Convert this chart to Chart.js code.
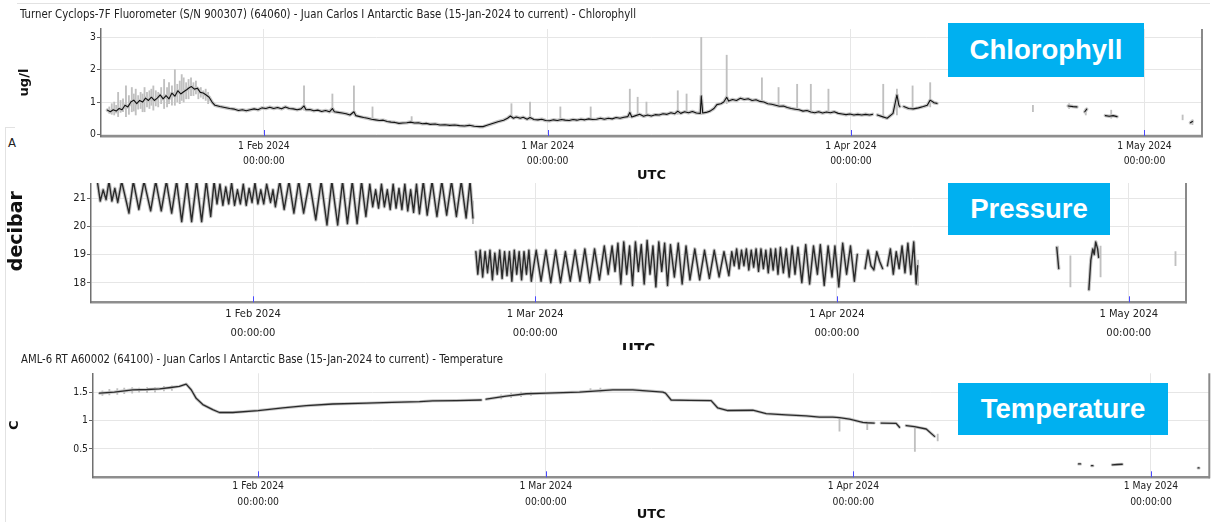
<!DOCTYPE html>
<html>
<head>
<meta charset="utf-8">
<title>Juan Carlos I Antarctic Base</title>
<script src="https://cdn.jsdelivr.net/npm/chart.js@4.4.1/dist/chart.umd.min.js"></script>
<style>
  body { margin: 0; background: #fff; width: 1216px; height: 522px; overflow: hidden; position: relative; }
  canvas { position: absolute; left: 0; }
  .title { position: absolute; white-space: nowrap; color: #222; font: 12px "DejaVu Sans Condensed", "DejaVu Sans", sans-serif; line-height: 14px; transform-origin: 0 50%; }
  .badge { position: absolute; background: #00b0f0; color: #fff; font: bold 27.5px "Liberation Sans", Arial, sans-serif; display: flex; align-items: center; justify-content: center; }
  .rule { position: absolute; background: #e2e2e2; }
  #presWrap { position: absolute; left: 0; top: 183px; width: 1216px; height: 167px; overflow: hidden; }
</style>
</head>
<body>
<div class="rule" style="left:17px;top:3px;width:1193px;height:1px"></div>
<div class="rule" style="left:5px;top:127px;width:1px;height:395px"></div>
<div class="rule" style="left:5px;top:127px;width:10px;height:1px"></div>
<div class="title" style="left:8px;top:136px;font-size:13px">A</div>

<div id="presWrap"><canvas id="presChart" width="1216" height="210" style="top:-33px"></canvas></div>
<canvas id="chlChart" width="1216" height="190" style="top:0"></canvas>
<canvas id="tempChart" width="1216" height="170" style="top:352px"></canvas>

<div class="title" data-w="616" style="left:20px;top:7px">Turner Cyclops-7F Fluorometer (S/N 900307) (64060) - Juan Carlos I Antarctic Base (15-Jan-2024 to current) - Chlorophyll</div>
<div class="title" data-w="482" style="left:21px;top:352px">AML-6 RT A60002 (64100) - Juan Carlos I Antarctic Base (15-Jan-2024 to current) - Temperature</div>

<div class="badge" style="left:948px;top:23px;width:196px;height:54px">Chlorophyll</div>
<div class="badge" style="left:948px;top:183px;width:162px;height:52px">Pressure</div>
<div class="badge" style="left:958px;top:383px;width:210px;height:52px">Temperature</div>

<script>
// --- Data (x = days since 1 Jan 2024 00:00 UTC) ---
const xMin = 14.35;
const xMax = 126.88;
const monthTicks = [31, 60, 91, 121];
const monthLabels = ['1 Feb 2024', '1 Mar 2024', '1 Apr 2024', '1 May 2024'];
const timeLabel = '00:00:00';

// Chlorophyll (ug/l), averaged trace; null = gap in the record
const chlDays = [15.0,15.3,15.6,15.9,16.2,16.5,16.8,17.1,17.4,17.7,18.0,18.3,18.6,18.9,19.2,19.5,19.8,20.1,20.4,20.7,21.0,21.3,21.6,21.9,22.2,22.5,22.8,23.1,23.4,23.6,23.9,24.2,24.5,24.8,25.1,25.4,25.7,26.0,26.5,27.0,27.5,28.0,28.4,28.8,29.2,29.6,30.0,30.4,30.8,31.2,31.6,32.0,32.4,32.8,33.2,33.6,34.0,34.4,34.8,35.1,35.3,35.7,36.1,36.5,36.9,37.3,37.7,38.0,38.2,38.6,39.0,39.4,39.8,40.2,40.4,40.8,41.2,41.6,42.0,42.4,42.8,43.2,43.6,44.0,44.4,44.8,45.2,45.6,46.0,46.4,46.8,47.2,47.6,48.0,48.5,49.0,49.5,50.0,50.5,51.0,51.5,52.0,52.5,53.0,53.4,
  53.8,54.2,54.6,55.0,55.5,55.9,56.2,56.5,56.8,57.2,57.5,57.9,58.2,58.6,59.0,59.4,59.8,60.2,60.6,61.0,61.4,61.8,62.2,62.6,63.0,63.4,63.8,64.2,64.6,65.0,65.4,65.8,66.2,66.6,67.0,67.4,67.8,68.2,68.4,68.6,69.0,69.4,69.8,70.2,70.6,71.0,71.4,71.8,72.2,72.6,73.0,73.3,73.6,74.0,74.4,74.8,75.2,75.6,75.7,75.85,76.2,76.6,77.0,77.3,77.7,78.0,78.3,78.5,78.9,79.3,79.7,80.1,80.5,80.9,81.3,81.7,82.1,82.5,82.9,83.3,83.7,84.1,84.5,84.9,85.3,85.7,86.1,86.5,86.9,87.3,87.7,88.1,88.5,88.9,89.3,89.7,90.1,90.5,90.9,91.3,91.7,92.1,92.5,92.9,93.2,93.45,
  93.7,94.2,94.7,95.3,95.7,95.9,96.0,96.15,96.4,96.9,97.4,97.9,98.4,98.8,99.1,99.5,99.8,100.0,113.2,113.7,114.1,114.5,114.9,115.1,115.5,117.0,117.4,117.8,118.2,118.6,125.7,125.9];
const chlVals = [0.75,0.7,0.76,0.72,0.8,0.76,0.9,0.85,1.0,1.06,0.95,1.05,1.0,1.12,1.05,1.15,1.05,1.12,1.22,1.1,1.2,1.1,1.28,1.18,1.35,1.25,1.32,1.38,1.45,1.48,1.4,1.43,1.3,1.28,1.22,1.15,1.0,0.9,0.86,0.83,0.8,0.78,0.74,0.76,0.73,0.76,0.79,0.76,0.82,0.8,0.84,0.8,0.83,0.79,0.85,0.8,0.79,0.76,0.79,0.88,0.76,0.77,0.73,0.75,0.71,0.74,0.7,0.8,0.7,0.68,0.66,0.64,0.6,0.7,0.58,0.55,0.52,0.5,0.47,0.45,0.43,0.44,0.4,0.38,0.37,0.34,0.35,0.36,0.38,0.35,0.36,0.33,0.34,0.31,0.32,0.29,0.3,0.28,0.29,0.27,0.26,0.28,0.25,0.24,0.24,
  0.28,0.32,0.36,0.4,0.44,0.5,0.57,0.5,0.54,0.5,0.53,0.47,0.52,0.46,0.45,0.47,0.43,0.42,0.45,0.43,0.46,0.44,0.43,0.46,0.44,0.47,0.45,0.48,0.46,0.47,0.5,0.47,0.5,0.48,0.52,0.5,0.53,0.55,0.68,0.54,0.58,0.62,0.56,0.6,0.57,0.61,0.6,0.64,0.62,0.67,0.64,0.72,0.65,0.7,0.67,0.71,0.66,0.65,1.19,0.66,0.68,0.72,0.8,0.92,0.95,1.0,1.15,1.03,1.08,1.05,1.12,1.08,1.1,1.05,1.07,1.02,1.0,0.95,0.93,0.9,0.87,0.88,0.83,0.8,0.78,0.76,0.72,0.74,0.69,0.67,0.7,0.66,0.69,0.67,0.7,0.65,0.63,0.61,0.63,0.6,0.62,0.6,0.62,0.6,0.62,null,
  0.6,0.55,0.5,0.65,1.22,0.9,0.86,null,0.86,0.8,0.79,0.82,0.86,0.9,1.06,0.98,0.96,null,0.88,0.86,0.85,null,0.7,0.78,null,0.58,0.56,0.58,0.55,null,0.36,0.4];
// Chlorophyll raw spikes: low / high of each grey stroke
const chlSpikeDays = [15.2,15.45,15.7,15.9,16.1,16.35,16.6,16.9,17.2,17.5,17.7,17.9,18.15,18.4,18.6,18.8,19.05,19.3,19.5,19.7,19.95,20.2,20.5,20.8,21.1,21.3,21.6,21.9,22.15,22.4,22.6,22.8,23.05,23.3,23.55,23.8,24.05,24.3,24.55,24.8,25.05,25.3,35.1,38.0,40.2,42.1,46.1,56.3,58.2,61.3,64.4,68.4,69.2,70.1,73.3,74.2,75.7,78.3,81.9,83.6,85.5,86.9,88.7,94.3,95.7,97.3,99.1,109.6,113.3,115.0,117.6,124.9,125.9];
const chlSpikeLo = [0.65,0.62,0.6,0.66,0.55,0.68,0.7,0.55,0.62,0.7,0.72,0.6,0.78,0.8,0.7,0.7,0.85,0.8,0.9,0.75,0.88,0.85,0.95,0.8,0.85,0.95,0.9,0.9,1.0,0.95,1.05,1.0,1.1,1.1,1.2,1.2,1.25,1.1,1.15,1.1,1.05,0.95,0.75,0.68,0.6,0.45,0.33,0.5,0.45,0.4,0.44,0.52,0.55,0.56,0.62,0.66,0.62,0.95,1.0,0.85,0.75,0.68,0.65,0.5,0.6,0.75,0.85,0.7,0.8,0.6,0.5,0.45,0.3];
const chlSpikeHi = [0.85,0.95,1.0,0.9,1.3,1.05,1.1,1.5,1.2,1.45,1.25,1.4,1.2,1.3,1.25,1.45,1.3,1.35,1.4,1.5,1.35,1.3,1.45,1.7,1.45,1.6,1.5,2.0,1.55,1.65,1.85,1.75,1.6,1.7,1.75,1.6,1.65,1.4,1.45,1.35,1.4,1.3,1.5,1.25,1.5,0.85,0.55,0.95,1.0,0.85,0.85,1.4,1.15,1.0,1.35,1.25,3.0,2.45,1.75,1.45,1.55,1.55,1.4,1.55,1.4,1.5,1.6,0.9,0.95,0.8,0.75,0.6,0.45];

// Pressure (decibar), tidal trace
const presDays = [15.0,15.3,15.6,15.9,16.2,16.5,16.8,17.1,17.5,17.9,18.25,18.7,19.27,19.8,20.48,21.0,21.57,22.1,22.64,23.15,23.67,24.2,24.69,25.2,25.72,26.2,26.65,27.0,27.3,27.6,27.9,28.2,28.5,28.8,29.1,29.4,29.7,30.0,30.3,30.6,30.9,31.2,31.5,31.8,32.1,32.4,32.8,33.05,33.3,33.75,34.2,34.7,35.2,35.7,36.2,36.8,37.45,38.0,38.6,39.1,39.7,40.2,40.7,41.2,41.7,42.15,42.6,43.0,43.3,43.6,43.9,44.2,44.5,44.8,45.1,45.4,45.7,46.0,46.3,46.6,46.9,47.2,47.5,47.8,48.1,48.5,48.9,49.4,49.9,50.4,50.9,51.4,51.9,52.4,52.9,53.3,53.6,53.75,
  53.9,54.1,54.35,54.6,54.85,55.1,55.35,55.6,55.85,56.1,56.35,56.6,56.85,57.1,57.35,57.6,57.85,58.1,58.35,58.6,58.85,59.1,59.35,59.6,60.1,60.6,61.1,61.6,62.1,62.6,63.1,63.6,64.1,64.6,65.1,65.6,66.1,66.6,67.1,67.5,67.9,68.2,68.5,68.8,69.1,69.4,69.7,70.0,70.3,70.6,70.9,71.2,71.5,71.8,72.1,72.4,72.7,73.0,73.3,73.6,73.9,74.3,74.7,75.1,75.5,75.9,76.4,76.9,77.4,77.9,78.4,78.9,79.4,79.9,80.2,80.45,80.7,80.95,81.2,81.45,81.7,81.95,82.2,82.45,82.7,82.95,83.2,83.45,83.7,83.95,84.2,84.45,84.7,84.95,85.2,85.5,85.8,86.1,86.4,86.7,87.0,87.4,87.8,88.2,88.6,89.0,89.3,89.7,90.1,90.5,90.8,91.2,91.6,92.0,92.4,92.8,93.1,93.5,
  93.9,94.2,94.5,94.8,95.1,95.4,95.7,95.95,96.2,96.5,96.8,97.1,97.4,97.7,98.0,98.3,98.6,98.9,99.15,99.3,99.5,113.6,113.8,114.0,116.9,117.1,117.3,117.45,117.6,117.8,117.9];
const presVals = [21.6,20.9,21.3,20.95,21.6,20.9,21.35,20.85,21.6,21.0,20.47,21.6,20.6,21.6,20.55,21.6,20.55,21.6,20.47,21.6,20.17,21.6,20.17,21.6,20.17,21.6,20.35,21.6,20.8,21.5,20.75,21.4,20.8,21.55,20.75,21.3,20.8,21.5,20.75,21.35,20.85,21.55,20.8,21.3,20.8,21.5,20.85,21.3,20.7,21.6,20.6,21.6,20.47,21.6,20.47,21.6,20.23,21.6,20.05,21.6,20.05,21.6,20.1,21.6,20.1,21.6,20.35,21.5,20.7,21.3,20.65,21.5,20.7,21.3,20.6,21.5,20.65,21.35,20.6,21.5,20.55,21.3,20.5,21.5,20.45,21.6,20.4,21.6,20.35,21.6,20.4,21.6,20.35,21.6,20.3,21.6,20.3,null,
  19.1,18.3,19.15,18.2,19.1,18.35,19.15,18.1,19.05,18.3,19.15,18.15,19.1,18.25,19.1,18.05,19.15,18.3,19.1,18.1,19.1,18.3,19.15,18.05,19.15,18.05,19.15,18.0,19.15,18.0,19.1,18.05,19.15,18.05,19.2,18.0,19.2,18.1,19.3,18.3,19.3,18.4,19.4,17.95,19.45,18.3,19.3,17.9,19.45,18.4,19.35,17.95,19.5,18.3,19.3,17.85,19.45,18.4,19.4,17.9,19.35,18.2,19.4,17.95,19.3,18.1,19.2,18.1,19.15,18.15,19.15,18.2,19.1,18.25,19.1,18.6,19.2,18.5,19.15,18.6,19.2,18.45,19.15,18.55,19.2,18.4,19.2,18.5,19.15,18.35,19.2,18.45,19.2,18.3,19.25,18.35,19.2,18.2,19.3,18.3,19.25,18.0,19.35,17.95,19.3,18.3,19.35,17.9,19.3,18.2,19.3,17.85,19.4,18.3,19.3,18.05,19.0,null,
  18.5,19.15,18.6,18.45,19.1,18.75,18.5,null,18.6,19.2,18.3,19.1,18.5,19.3,18.35,19.4,18.3,19.45,17.95,18.6,null,19.25,18.5,null,17.75,18.8,19.2,19.0,19.45,19.2,18.9];
const presSpikeDays = [53.6,99.35,113.7,115.0,118.1,125.8];
const presSpikeLo = [20.1,17.9,18.5,17.85,18.2,18.6];
const presSpikeHi = [20.9,18.8,19.3,18.95,19.3,19.1];

// Temperature (C)
const tempDays = [15.0,16.5,18.36,19.8,21.05,22.2,23.05,23.74,24.25,24.75,25.42,26.42,27.1,28.44,31.0,33.48,35.84,38.52,41.89,44.5,47.26,48.6,51.0,53.48,53.7,53.98,56.0,58.02,60.03,63.39,66.75,68.76,71.79,72.06,72.63,74.5,76.66,77.33,78.34,80.86,82.21,84.2,86.24,87.58,88.92,89.6,90.61,91.95,92.4,93.1,93.45,93.8,95.31,95.65,96.0,96.32,97.16,98.34,99.18,99.5,113.7,113.9,114.2,115.0,115.15,115.4,117.1,117.6,118.1,118.4,125.75,125.85];
const tempVals = [1.48,1.5,1.54,1.545,1.556,1.58,1.6,1.64,1.54,1.39,1.28,1.19,1.14,1.14,1.175,1.22,1.26,1.29,1.305,1.32,1.33,1.345,1.35,1.36,null,1.375,1.43,1.47,1.48,1.5,1.54,1.54,1.5,1.48,1.36,1.355,1.35,1.22,1.175,1.18,1.12,1.1,1.08,1.06,1.06,1.05,1.025,0.965,0.96,0.955,null,0.955,0.95,0.88,null,0.91,0.89,0.85,0.72,null,0.235,0.235,null,0.205,0.205,null,0.22,0.225,0.23,null,0.165,0.165];
const tempSpikeDays = [15.3,16.0,16.8,17.5,18.3,19.0,19.8,20.6,21.5,22.3,55.5,56.5,57.5,58.5,64.5,65.5,89.6,92.4,97.2,99.5];
const tempSpikeLo = [1.44,1.45,1.46,1.47,1.48,1.5,1.49,1.5,1.52,1.53,1.38,1.4,1.42,1.44,1.49,1.5,0.81,0.84,0.456,0.64];
const tempSpikeHi = [1.52,1.55,1.56,1.57,1.58,1.57,1.58,1.58,1.6,1.61,1.45,1.48,1.5,1.5,1.56,1.57,1.05,0.97,0.9,0.76];

// --- Helpers ---
Chart.defaults.font.family = '"DejaVu Sans Condensed", "DejaVu Sans", sans-serif';
Chart.defaults.color = '#222';

const toPoints = (days, vals) => days.map((d, i) => ({ x: d, y: vals[i] }));
const toBars = (days, lo, hi) => days.map((d, i) => ({ x: d, y: [lo[i], hi[i]] }));

// blue month ticks inside the plot + right frame line
const framePlugin = {
  id: 'frame',
  afterDraw(chart) {
    const { ctx, chartArea: a, scales: { x } } = chart;
    ctx.save();
    ctx.strokeStyle = '#4a4aff';
    ctx.lineWidth = 1;
    x.ticks.forEach(t => {
      const px = Math.round(x.getPixelForValue(t.value)) + 0.5;
      ctx.beginPath(); ctx.moveTo(px, a.bottom - 6); ctx.lineTo(px, a.bottom); ctx.stroke();
    });
    ctx.strokeStyle = '#8a8a8a';
    ctx.lineWidth = 2;
    ctx.beginPath(); ctx.moveTo(a.right, a.top); ctx.lineTo(a.right, a.bottom + 1); ctx.stroke();
    ctx.restore();
  }
};

function buildPanel(id, p) {
  const lineStyle = { pointRadius: 0, spanGaps: false, borderJoinStyle: 'round', borderCapStyle: 'round' };
  return new Chart(document.getElementById(id), {
    type: 'line',
    data: {
      datasets: [
        { type: 'bar', data: p.spikes, backgroundColor: '#c0c0c0', barThickness: 1.2, order: 3 },
        { ...lineStyle, data: p.line, borderColor: '#c6c6c6', borderWidth: p.halo, order: 2 },
        { ...lineStyle, data: p.line, borderColor: p.ink, borderWidth: p.lw, order: 1 }
      ]
    },
    options: {
      responsive: false,
      animation: false,
      events: [],
      layout: { padding: p.pad },
      plugins: { legend: { display: false }, tooltip: { enabled: false } },
      scales: {
        x: {
          type: 'linear', min: xMin, max: xMax, offset: false,
          afterBuildTicks: s => { s.ticks = monthTicks.map(v => ({ value: v })); },
          afterFit: s => { s.height = p.xh; },
          ticks: {
            autoSkip: false, maxRotation: 0, padding: p.xpad,
            font: { size: p.tick, lineHeight: p.tickLH },
            callback: (v, i) => [monthLabels[i], timeLabel]
          },
          grid: { color: '#e6e6e6', drawTicks: false, offset: false },
          border: { color: '#8e8e8e', width: 2.5 },
          title: {
            display: true, text: 'UTC', color: '#111',
            font: { size: p.utc, weight: 'bold', family: '"DejaVu Sans", sans-serif' },
            padding: { top: 0, bottom: p.utcPad }
          }
        },
        y: {
          min: p.yMin, max: p.yMax,
          afterBuildTicks: s => { s.ticks = p.yTicks.map(v => ({ value: v })); },
          afterFit: s => { s.width = p.yw; },
          ticks: { padding: 1, font: { size: p.tick }, callback: (v, i) => p.yLabels[i] },
          grid: { color: '#e6e6e6', tickColor: '#666', tickLength: 4 },
          border: { color: '#707070', width: 1.5 },
          title: {
            display: true, text: p.yTitle, color: '#111',
            font: { size: p.yTitleSize, weight: 'bold', family: '"DejaVu Sans", sans-serif' },
            padding: { top: p.yTitlePad, bottom: 0 }
          }
        }
      }
    },
    plugins: [framePlugin]
  });
}

// --- Panels ---
buildPanel('chlChart', {
  line: toPoints(chlDays, chlVals), spikes: toBars(chlSpikeDays, chlSpikeLo, chlSpikeHi),
  halo: 3.5, lw: 1.1, ink: '#111',
  pad: { left: 0, top: 29, right: 14, bottom: 0 }, yw: 101, xh: 54,
  tick: 10.3, tickLH: 15 / 10.3, xpad: 3, utc: 13, utcPad: 7,
  yMin: -0.05, yMax: 3.26, yTicks: [0, 1, 2, 3], yLabels: ['0', '1', '2', '3'],
  yTitle: 'ug/l', yTitleSize: 13, yTitlePad: 17
});

buildPanel('presChart', {
  line: toPoints(presDays, presVals), spikes: toBars(presSpikeDays, presSpikeLo, presSpikeHi),
  halo: 3.5, lw: 1.4, ink: '#2a2a2a',
  pad: { left: 0, top: 10, right: 30, bottom: 0 }, yw: 91, xh: 57.7,
  tick: 11.1, tickLH: 19.5 / 11.1, xpad: 2, utc: 15, utcPad: 0,
  yMin: 17.3, yMax: 22.36, yTicks: [18, 19, 20, 21], yLabels: ['18', '19', '20', '21'],
  yTitle: 'decibar', yTitleSize: 19, yTitlePad: 5.6
});

buildPanel('tempChart', {
  line: toPoints(tempDays, tempVals), spikes: toBars(tempSpikeDays, tempSpikeLo, tempSpikeHi),
  halo: 3, lw: 1.3, ink: '#2a2a2a',
  pad: { left: 0, top: 21.3, right: 6.7, bottom: 0 }, yw: 93, xh: 44.7,
  tick: 10.3, tickLH: 15.7 / 10.3, xpad: 1.5, utc: 13, utcPad: 0,
  yMin: 0, yMax: 1.83, yTicks: [0.5, 1, 1.5], yLabels: ['0.5', '1', '1.5'],
  yTitle: 'C', yTitleSize: 13, yTitlePad: 7
});

// --- Fit chart titles to their measured width ---
document.querySelectorAll('.title[data-w]').forEach(el => {
  const w = el.getBoundingClientRect().width;
  el.style.transform = `scaleX(${el.dataset.w / w})`;
});
</script>
</body>
</html>
